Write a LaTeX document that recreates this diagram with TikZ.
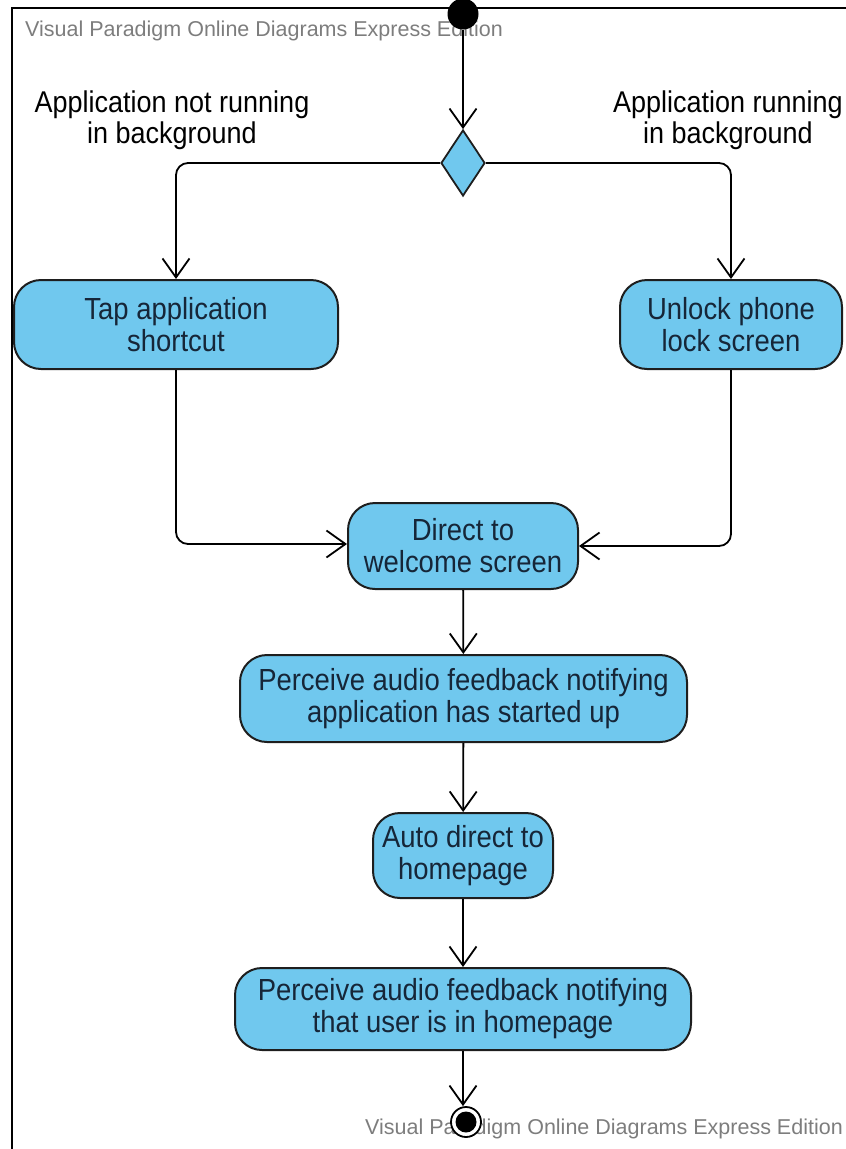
\documentclass[tikz,border=0pt]{standalone}
\usepackage{fontspec}
\setmainfont{Liberation Sans}[FakeStretch=0.9]
\newfontfamily\wmfont{Liberation Sans}[FakeStretch=1.0]
\usetikzlibrary{arrows.meta,shapes.geometric}

\definecolor{actfill}{RGB}{112,200,238}
\definecolor{actline}{RGB}{30,30,30}
\definecolor{acttext}{RGB}{22,38,56}
\definecolor{wmgray}{RGB}{125,125,125}

\tikzset{
  activity/.style={draw=actline, line width=2pt, fill=actfill, rectangle,
    rounded corners=27pt, align=center, text=acttext, inner sep=0pt,
    font=\fontsize{30.5}{32}\selectfont},
  decision/.style={draw=actline, line width=1.8pt, fill=actfill, diamond,
    inner sep=0pt, minimum width=44pt, minimum height=66pt},
  flow/.style={draw=black, line width=1.8pt,
    -{Straight Barb[length=19pt,width=27pt,line width=1.8pt]}},
  guard/.style={align=center, text=black, font=\fontsize{30}{31}\selectfont},
  watermark/.style={text=wmgray, inner sep=0pt, anchor=west,
    font=\wmfont\fontsize{21.5}{22}\selectfont}
}

\begin{document}
\begin{tikzpicture}[x=1pt,y=-1pt]
  \useasboundingbox (0,0) rectangle (846,1149);

  % page frame (left and top edges)
  \draw[line width=2.5pt] (12,1149) -- (12,8) -- (846,8);

  % watermarks
  \node[watermark] (wmtop) at (25,31) {Visual Paradigm Online Diagrams Express Edition};
  \node[watermark] (wmbot) at (365,1129) {Visual Paradigm Online Diagrams Express Edition};

  % initial node and decision
  \node[circle, fill=black, inner sep=0pt, minimum size=31pt] (start) at (463,14) {};
  \node[decision] (dec) at (463,163) {};

  % guard labels
  \node[guard] (gleft) at (172,120) {Application not running\\in background};
  \node[guard] (gright) at (728,120) {Application running\\in background};

  % actions
  \node[activity, minimum width=324pt, minimum height=89pt] (tap) at (176,324.5)
    {Tap application\\shortcut};
  \node[activity, minimum width=222pt, minimum height=89pt] (unlock) at (731,324.5)
    {Unlock phone\\lock screen};
  \node[activity, minimum width=230pt, minimum height=86pt] (direct) at (463,546)
    {Direct to\\welcome screen};
  \node[activity, minimum width=447pt, minimum height=87pt] (start up) at (463.5,698.5)
    {Perceive audio feedback notifying\\application has started up};
  \node[activity, minimum width=180pt, minimum height=85pt] (auto) at (463,855.5)
    {Auto direct to\\homepage};
  \node[activity, minimum width=456pt, minimum height=82pt] (home) at (463,1009)
    {Perceive audio feedback notifying\\that user is in homepage};

  % final node
  \node[circle, draw=black, line width=1.8pt, fill=white, inner sep=0pt,
    minimum size=30pt] (final) at (466,1122) {};
  \fill[black] (final.center) circle (10.5pt);

  % control flows
  \draw[flow] (start) -- (dec);
  \draw[flow, rounded corners=12pt] (dec.west) -| (tap.north);
  \draw[flow, rounded corners=12pt] (dec.east) -| (unlock.north);
  \draw[flow, rounded corners=12pt] (tap.south) |- ([yshift=2pt]direct.west);
  \draw[flow, rounded corners=12pt] (unlock.south) |- (direct.east);
  \draw[flow] (direct) -- (start up);
  \draw[flow] (start up) -- (auto);
  \draw[flow] (auto) -- (home);
  \draw[flow] (home.south) -- (home.south |- final.north);
\end{tikzpicture}
\end{document}
